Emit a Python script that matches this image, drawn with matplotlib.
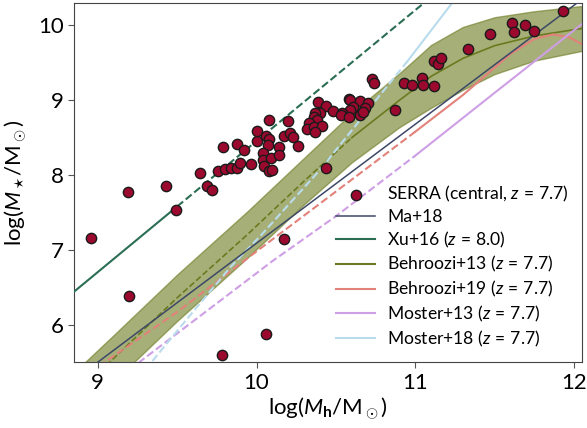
import numpy as np
import matplotlib
matplotlib.use('Agg')
import matplotlib.pyplot as plt

plt.rcParams['font.family'] = ['Lato', 'DejaVu Sans']
plt.rcParams['mathtext.fontset'] = 'custom'
plt.rcParams['mathtext.rm'] = 'Lato'
plt.rcParams['mathtext.it'] = 'Lato:italic'
plt.rcParams['mathtext.bf'] = 'Lato:bold'

# SERRA central galaxies, z = 7.7
log_mh = [9.643, 9.686, 9.717, 9.790, 9.759, 9.80, 9.836, 9.874, 9.895, 9.88, 9.92, 9.962,
          10.004, 10.006, 10.08, 10.06, 10.08, 10.07, 10.04, 10.04, 10.05, 10.08, 10.09,
          10.10, 10.14, 10.14, 10.17, 10.20, 10.21, 10.23, 10.26,
          10.73, 10.74, 10.39, 10.44, 10.48, 10.40, 10.37, 10.36, 10.38, 10.33, 10.32,
          10.36, 10.41, 10.37, 10.58, 10.59, 10.65, 10.70, 10.61, 10.59, 10.54, 10.53,
          10.68, 10.58, 10.65, 10.67, 10.87, 10.93, 10.98, 11.04, 11.05, 10.44,
          11.12, 11.12, 11.14, 11.16, 11.33, 11.47, 11.61, 11.62, 11.69, 11.75, 11.93,
          9.19, 9.43, 9.49, 8.956, 9.199, 10.17, 10.06, 9.78]
log_ms = [8.03, 7.86, 7.80, 8.38, 8.06, 8.08, 8.10, 8.10, 8.16, 8.41, 8.33, 8.15,
          8.45, 8.59, 8.74, 8.52, 8.48, 8.40, 8.29, 8.20, 8.12, 8.05, 8.23,
          8.07, 8.37, 8.27, 8.52, 8.72, 8.56, 8.51, 8.39,
          9.28, 9.23, 8.98, 8.92, 8.86, 8.83, 8.83, 8.77, 8.73, 8.69, 8.62,
          8.64, 8.65, 8.58, 9.02, 9.01, 8.99, 8.96, 8.91, 8.87, 8.83, 8.80,
          8.90, 8.78, 8.80, 8.84, 8.87, 9.23, 9.20, 9.30, 9.21, 8.09,
          9.19, 9.53, 9.49, 9.57, 9.69, 9.89, 10.03, 9.91, 10.00, 9.92, 10.19,
          7.77, 7.85, 7.53, 7.16, 6.38, 7.15, 5.88, 5.60]

# Ma+18
ma_x = [8.85, 12.05]
ma_y = [5.26, 10.35]

# Xu+16 (z = 8.0): fitted range, then extrapolation
xu_x = [8.85, 9.5]
xu_y = [6.44, 7.58]
xu_x_ext = [9.5, 11.1]
xu_y_ext = [7.58, 10.38]

# Behroozi+13 (z = 7.7) median and band
b13_x = [8.85, 9.09, 9.5, 9.94, 10.3, 10.6, 10.9, 11.1, 11.3, 11.5, 11.75, 12.05]
b13_y = [5.05, 5.53, 6.36, 7.2, 7.92, 8.5, 9.0, 9.32, 9.56, 9.73, 9.86, 9.96]
b13_hi = [5.36, 5.84, 6.67, 7.51, 8.23, 8.83, 9.36, 9.74, 9.98, 10.11, 10.19, 10.26]
b13_lo = [4.74, 5.22, 6.05, 6.89, 7.61, 8.17, 8.64, 8.90, 9.14, 9.35, 9.53, 9.66]

# Behroozi+19 (z = 7.7)
b19_x = [8.95, 9.5, 10.0, 10.5, 11.0, 11.3, 11.6, 11.75, 11.87, 11.97, 12.05]
b19_y = [5.36, 6.17, 6.98, 7.78, 8.58, 9.07, 9.62, 9.82, 9.88, 9.84, 9.75]

# Moster+13 (z = 7.7)
m13_x = [9.2, 10.1, 10.5, 11.0, 11.5, 12.05]
m13_y = [5.40, 6.85, 7.45, 8.26, 9.10, 10.02]

# Moster+18 (z = 7.7)
m18_x = [9.3, 9.54, 9.84, 10.03, 10.40, 10.82, 10.95, 11.25]
m18_y = [5.40, 6.02, 6.78, 7.20, 8.07, 9.18, 9.52, 10.35]

b13_cut, b19_cut, m13_cut, m18_cut = 10.6, 11.0, 11.0, 10.95

c_ma = '#3d4866'
c_xu = '#2b6e54'
c_b13 = '#6b7a1f'
c_b19 = '#e2827a'
c_m13 = '#cf9fe6'
c_m18 = '#b9dcec'


def split(xs, ys, cut):
    xs = np.array(xs)
    ys = np.array(ys)
    yc = np.interp(cut, xs, ys)
    lo = xs < cut
    hi = xs > cut
    return (np.r_[xs[lo], cut], np.r_[ys[lo], yc]), (np.r_[cut, xs[hi]], np.r_[yc, ys[hi]])


fig = plt.figure(figsize=(5.87, 4.28), dpi=100)
ax = fig.add_axes([0.126, 0.154, 0.8655, 0.839])

ax.fill_between(b13_x, b13_lo, b13_hi, color=c_b13, alpha=0.6, lw=1.0, zorder=1)
(d, s) = split(b13_x, b13_y, b13_cut)
ax.plot(*d, color=c_b13, ls='--', lw=1.2, zorder=2)
ax.plot(*s, color=c_b13, lw=1.2, zorder=2)

ax.plot(ma_x, ma_y, color=c_ma, lw=1.1, zorder=3)

ax.plot(xu_x, xu_y, color=c_xu, lw=1.5, zorder=3)
ax.plot(xu_x_ext, xu_y_ext, color=c_xu, lw=1.5, ls='--', zorder=3)

for xs, ys, cut, c in [(b19_x, b19_y, b19_cut, c_b19),
                       (m13_x, m13_y, m13_cut, c_m13),
                       (m18_x, m18_y, m18_cut, c_m18)]:
    (d, s) = split(xs, ys, cut)
    ax.plot(*d, color=c, ls='--', lw=1.5, zorder=2)
    ax.plot(*s, color=c, lw=1.5, zorder=2)

ax.scatter(log_mh, log_ms, s=55, c='#9b0a2e', edgecolors='#1a1a1a', linewidths=1.0, zorder=5,
           label=r'SERRA (central, $z\,=\,7.7$)')

ax.plot([], [], color=c_ma, lw=1.1, label='Ma+18')
ax.plot([], [], color=c_xu, lw=1.5, label=r'Xu+16 ($z\,=\,8.0$)')
ax.plot([], [], color=c_b13, lw=1.5, label=r'Behroozi+13 ($z\,=\,7.7$)')
ax.plot([], [], color=c_b19, lw=1.5, label=r'Behroozi+19 ($z\,=\,7.7$)')
ax.plot([], [], color=c_m13, lw=1.5, label=r'Moster+13 ($z\,=\,7.7$)')
ax.plot([], [], color=c_m18, lw=1.5, label=r'Moster+18 ($z\,=\,7.7$)')

leg = ax.legend(loc='lower right', fontsize=12.6, frameon=False,
                borderaxespad=0.35, labelspacing=0.27, handlelength=2.2, handletextpad=0.7)
leg.set_zorder(10)

ax.set_xlim(8.85, 12.05)
ax.set_ylim(5.5, 10.3)
ax.set_xticks([9, 10, 11, 12])
ax.set_yticks([6, 7, 8, 9, 10])
ax.tick_params(labelsize=16, length=4, color='#555555')
for sp in ax.spines.values():
    sp.set_color('#444444')
ax.set_xlabel(r'$\log(M_\mathbf{h}/\mathrm{M}_\odot)$', fontsize=16, labelpad=2)
ax.set_ylabel(r'$\log(M_\star/\mathrm{M}_\odot)$', fontsize=16, labelpad=6)

fig.savefig('out.png', dpi=100)
